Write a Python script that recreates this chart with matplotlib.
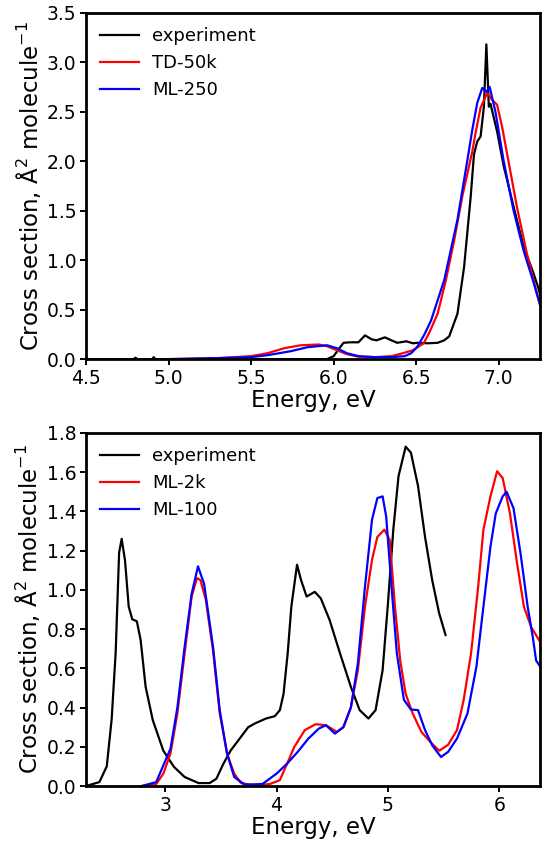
import matplotlib
matplotlib.use("Agg")
import matplotlib.pyplot as plt

# ---------------- top panel data ----------------
top_exp_x = [4.50, 4.70, 4.79, 4.80, 4.81, 4.90, 4.91, 4.92, 5.10, 5.50, 5.90, 5.96, 6.00, 6.03, 6.06,
             6.10, 6.15, 6.19, 6.23, 6.26, 6.31, 6.35, 6.385, 6.44, 6.48, 6.51, 6.57, 6.63, 6.67,
             6.70, 6.75, 6.79, 6.83, 6.85, 6.87, 6.89, 6.91, 6.925, 6.94, 6.95, 6.99, 7.03,
             7.09, 7.15, 7.21, 7.24, 7.25]
top_exp_y = [0.00, 0.00, 0.00, 0.015, 0.00, 0.00, 0.02, 0.00, 0.00, 0.00, 0.00, 0.00, 0.03, 0.10, 0.165,
             0.17, 0.17, 0.24, 0.20, 0.19, 0.22, 0.19, 0.165, 0.18, 0.16, 0.165, 0.16, 0.165, 0.19,
             0.23, 0.46, 0.93, 1.64, 2.07, 2.20, 2.25, 2.55, 3.18, 2.55, 2.58, 2.30, 1.95,
             1.54, 1.14, 0.87, 0.72, 0.65]

top_td_x = [4.50, 5.00, 5.30, 5.50, 5.60, 5.70, 5.80, 5.91, 5.96, 6.02, 6.08, 6.15, 6.25, 6.35, 6.42,
            6.48, 6.545, 6.58, 6.63, 6.68, 6.73, 6.78, 6.84, 6.86, 6.89, 6.93, 6.96, 6.99,
            7.02, 7.05, 7.11, 7.17, 7.23, 7.25]
top_td_y = [0.00, 0.00, 0.01, 0.03, 0.06, 0.11, 0.14, 0.148, 0.13, 0.09, 0.05, 0.025, 0.02, 0.03, 0.06,
            0.09, 0.16, 0.27, 0.46, 0.80, 1.20, 1.65, 2.10, 2.29, 2.54, 2.69, 2.62, 2.57,
            2.35, 2.08, 1.54, 1.07, 0.67, 0.55]

top_ml_x = [4.50, 5.00, 5.30, 5.50, 5.60, 5.74, 5.84, 5.96, 6.02, 6.08, 6.15, 6.25, 6.35, 6.43,
            6.47, 6.507, 6.55, 6.59, 6.67, 6.75, 6.81, 6.84, 6.87, 6.90, 6.925, 6.945,
            6.98, 7.03, 7.09, 7.15, 7.21, 7.25]
top_ml_y = [0.00, 0.00, 0.01, 0.02, 0.04, 0.08, 0.12, 0.14, 0.11, 0.06, 0.03, 0.02, 0.02, 0.03,
            0.06, 0.125, 0.25, 0.39, 0.80, 1.41, 2.01, 2.32, 2.59, 2.74, 2.70, 2.75,
            2.50, 2.00, 1.50, 1.10, 0.78, 0.55]

# ---------------- bottom panel data ----------------
bot_exp_x = [2.29, 2.41, 2.476, 2.52, 2.556, 2.587, 2.61, 2.64, 2.673, 2.705, 2.746, 2.78, 2.825,
             2.889, 2.984, 3.08, 3.175, 3.30, 3.40, 3.46, 3.52, 3.587, 3.68, 3.746, 3.81, 3.905,
             3.984, 4.03, 4.063, 4.10, 4.133, 4.184, 4.22, 4.27, 4.343, 4.397, 4.476, 4.57,
             4.667, 4.746, 4.825, 4.889, 4.952, 5.00, 5.048, 5.095, 5.159, 5.206, 5.27, 5.333,
             5.397, 5.46, 5.517]
bot_exp_y = [0.00, 0.02, 0.10, 0.34, 0.68, 1.19, 1.26, 1.15, 0.915, 0.85, 0.84, 0.745, 0.506,
             0.336, 0.18, 0.097, 0.046, 0.015, 0.015, 0.037, 0.11, 0.18, 0.25, 0.30, 0.32, 0.344,
             0.356, 0.387, 0.47, 0.676, 0.915, 1.128, 1.05, 0.966, 0.99, 0.957, 0.847, 0.676,
             0.506, 0.387, 0.344, 0.387, 0.59, 0.93, 1.307, 1.58, 1.73, 1.70, 1.53, 1.27,
             1.05, 0.88, 0.77]

bot_2k_x = [2.79, 2.92, 2.984, 3.048, 3.11, 3.175, 3.238, 3.286, 3.317, 3.365, 3.43, 3.49, 3.556,
            3.62, 3.68, 3.81, 3.94, 4.03, 4.095, 4.16, 4.254, 4.35, 4.444, 4.54, 4.60, 4.667,
            4.73, 4.794, 4.857, 4.905, 4.968, 5.016, 5.063, 5.11, 5.159, 5.222, 5.30, 5.38,
            5.46, 5.54, 5.62, 5.68, 5.746, 5.81, 5.857, 5.92, 5.98, 6.03, 6.095, 6.159, 6.22,
            6.286, 6.365]
bot_2k_y = [0.00, 0.01, 0.063, 0.165, 0.37, 0.676, 0.966, 1.06, 1.05, 0.95, 0.69, 0.37, 0.165,
            0.063, 0.015, 0.003, 0.01, 0.03, 0.114, 0.20, 0.285, 0.315, 0.31, 0.276, 0.30, 0.40,
            0.59, 0.915, 1.153, 1.27, 1.307, 1.255, 0.915, 0.64, 0.47, 0.37, 0.276, 0.225,
            0.18, 0.21, 0.285, 0.44, 0.676, 1.017, 1.307, 1.477, 1.605, 1.57, 1.39, 1.136, 0.915,
            0.81, 0.736]

bot_100_x = [2.79, 2.92, 3.048, 3.11, 3.175, 3.238, 3.295, 3.35, 3.43, 3.49, 3.556, 3.62, 3.714,
             3.873, 4.00, 4.095, 4.19, 4.286, 4.38, 4.444, 4.524, 4.60, 4.667, 4.73, 4.794,
             4.857, 4.905, 4.952, 4.984, 5.032, 5.08, 5.143, 5.206, 5.27, 5.333, 5.397, 5.476,
             5.54, 5.62, 5.714, 5.794, 5.857, 5.92, 5.968, 6.03, 6.065, 6.127, 6.19, 6.254,
             6.30, 6.33, 6.365]
bot_100_y = [0.00, 0.02, 0.19, 0.40, 0.71, 0.98, 1.12, 1.03, 0.71, 0.387, 0.165, 0.046, 0.007,
             0.01, 0.063, 0.114, 0.174, 0.242, 0.293, 0.31, 0.267, 0.30, 0.40, 0.625, 1.017,
             1.358, 1.468, 1.477, 1.375, 1.017, 0.676, 0.44, 0.39, 0.387, 0.285, 0.208, 0.148,
             0.174, 0.242, 0.37, 0.608, 0.915, 1.22, 1.39, 1.477, 1.50, 1.417, 1.187, 0.915,
             0.76, 0.64, 0.61]

top_xticks = [4.5, 5.0, 5.5, 6.0, 6.5, 7.0]
top_yticks = [0.0, 0.5, 1.0, 1.5, 2.0, 2.5, 3.0, 3.5]
bot_xticks = [3, 4, 5, 6]
bot_yticks = [0.0, 0.2, 0.4, 0.6, 0.8, 1.0, 1.2, 1.4, 1.6, 1.8]

plt.rcParams['font.family'] = ['DejaVu Sans']

fig = plt.figure(figsize=(5.55, 8.49), dpi=100)
ax1 = fig.add_axes([0.155, 0.577, 0.818, 0.408])
ax2 = fig.add_axes([0.155, 0.0742, 0.818, 0.4158])

lw = 1.6
ylabel = 'Cross section, Å$^2$ molecule$^{-1}$'

ax1.plot(top_exp_x, top_exp_y, color='black', lw=lw, label='experiment')
ax1.plot(top_td_x, top_td_y, color='red', lw=lw, label='TD-50k')
ax1.plot(top_ml_x, top_ml_y, color='blue', lw=lw, label='ML-250')
ax1.set_xlim(4.5, 7.25)
ax1.set_ylim(0, 3.5)
ax1.set_xticks(top_xticks)
ax1.set_yticks(top_yticks)
ax1.set_xticklabels([f'{v:.1f}' for v in top_xticks])
ax1.set_yticklabels([f'{v:.1f}' for v in top_yticks])

ax2.plot(bot_exp_x, bot_exp_y, color='black', lw=lw, label='experiment')
ax2.plot(bot_2k_x, bot_2k_y, color='red', lw=lw, label='ML-2k')
ax2.plot(bot_100_x, bot_100_y, color='blue', lw=lw, label='ML-100')
ax2.set_xlim(2.29, 6.365)
ax2.set_ylim(0, 1.8)
ax2.set_xticks(bot_xticks)
ax2.set_yticks(bot_yticks)
ax2.set_yticklabels([f'{v:.1f}' for v in bot_yticks])

for ax in (ax1, ax2):
    ax.set_xlabel('Energy, eV', fontsize=16.5, labelpad=1)
    ax.set_ylabel(ylabel, fontsize=16.5, labelpad=3)
    ax.tick_params(labelsize=13.5, width=1.4, length=4, direction='out', pad=3)
    for s in ax.spines.values():
        s.set_linewidth(2.0)
    ax.legend(loc='upper left', frameon=False, fontsize=13, handlelength=2.15,
              handletextpad=0.72, labelspacing=0.5, borderaxespad=0.4)

fig.savefig('out.png', dpi=100)
